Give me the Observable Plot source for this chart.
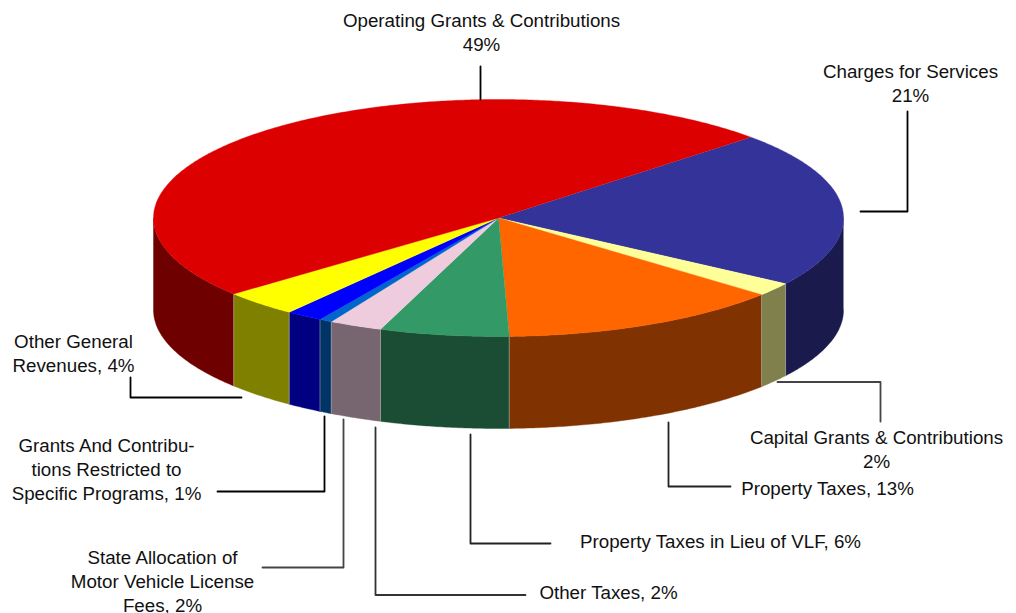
<!DOCTYPE html>
<html>
<head>
<meta charset="utf-8">
<script src="https://cdn.jsdelivr.net/npm/d3@7"></script>
<script src="https://cdn.jsdelivr.net/npm/@observablehq/plot@0.6"></script>
<style>
html,body{margin:0;padding:0;background:#fff}
svg{display:block}
</style>
</head>
<body>
<div id="chart"></div>
<script>
// Data, clockwise from the red/blue boundary at the back right of the pie
const sliceNames = ["Charges for Services","Capital Grants & Contributions","Property Taxes","Property Taxes in Lieu of VLF","Other Taxes","Grants And Contributions Restricted to Specific Programs","State Allocation of Motor Vehicle License Fees","Other General Revenues","Operating Grants & Contributions"];
const sliceValues = [21.3,1.84,13.31,6.05,2.5,0.6,1.72,3.55,49.13];
const topColors = ["#333399","#ffff99","#ff6600","#339966","#eeccdd","#0066cc","#0000ff","#ffff00","#dd0000"];
const sideColors = ["#1a1a4d","#80804d","#803300","#1a4d33","#77666f","#003366","#000080","#808000","#6f0000"];
const labelTexts = ["Operating Grants & Contributions\n49%","Charges for Services\n21%","Capital Grants & Contributions\n2%","Property Taxes, 13%","Property Taxes in Lieu of VLF, 6%","Other Taxes, 2%","State Allocation of\nMotor Vehicle License\nFees, 2%","Grants And Contribu-\ntions Restricted to\nSpecific Programs, 1%","Other General\nRevenues, 4%"];

// Layout
const W = 1016, H = 613;
const cx = 498, cy = 217.5, rx = 345, ry = 118.5, depth = 92, startAngle = 43;
const labelAnchors = [[481,30.5],[910,82],[876,448],[827,487],[720,540],[608,591],[162,580],[106,468],[73,352]];
const leaders = [
  [[480,66],[480,99]],
  [[907,111],[907,211],[860,211]],
  [[777,381.5],[880,381.5],[880,421]],
  [[668,422],[668,486],[730,486]],
  [[470,434],[470,543],[550,543]],
  [[375,427],[375,594.5],[525,594.5]],
  [[343,419],[343,567],[262,567]],
  [[324,416],[324,491],[217,491]],
  [[130,377],[130,397],[241,397]]
];
const leaderColors = ["#000","#000","#444","#222","#222","#333","#444","#000","#000"];

const px = t => cx + rx * Math.cos(t * Math.PI / 180);
const py = (t, d = 0) => cy - ry * Math.sin(t * Math.PI / 180) + d;

const total = d3.sum(sliceValues);
let cum = 0;
const slices = sliceValues.map((v, i) => {
  const t0 = startAngle - cum / total * 360;
  cum += v;
  const t1 = startAngle - cum / total * 360;
  return {name: sliceNames[i], value: v, top: topColors[i], side: sideColors[i], t0, t1};
});

function arc(a, b) { // a > b, descending in degrees
  const n = Math.max(2, Math.ceil((a - b) / 0.5));
  return d3.range(n + 1).map(k => a + (b - a) * k / n);
}

const topPts = slices.flatMap(s => [
  {key: s.name, color: s.top, x: cx, y: cy},
  ...arc(s.t0, s.t1).map(t => ({key: s.name, color: s.top, x: px(t), y: py(t)}))
]);

const sidePts = slices.flatMap(s => {
  const a = Math.min(s.t0, 0), b = Math.max(s.t1, -180);
  if (a <= b) return [];
  const ts = arc(a, b);
  return [
    ...ts.map(t => ({key: s.name, color: s.side, x: px(t), y: py(t)})),
    ...ts.slice().reverse().map(t => ({key: s.name, color: s.side, x: px(t), y: py(t, depth)}))
  ];
});

const seams = slices.filter(s => s.t1 < 0 && s.t1 > -180)
  .map(s => ({x: px(s.t1), y1: py(s.t1), y2: py(s.t1, depth)}));

const leaderPts = leaders.flatMap((l, i) => l.map(([x, y]) => ({key: i, color: leaderColors[i], x, y})));
const labels = labelTexts.map((text, i) => ({text, x: labelAnchors[i][0], y: labelAnchors[i][1]}));

const chart = Plot.plot({
  width: W, height: H,
  marginTop: 0, marginRight: 0, marginBottom: 0, marginLeft: 0,
  x: {domain: [0, W], range: [0, W], axis: null},
  y: {domain: [0, H], range: [0, H], axis: null},
  color: {type: "identity"},
  style: {background: "#fff"},
  marks: [
    Plot.line(sidePts, {x: "x", y: "y", z: "key", fill: "color", stroke: "color", strokeWidth: 0.4, curve: "linear"}),
    Plot.link(seams, {x1: "x", x2: "x", y1: "y1", y2: "y2", stroke: "#b0b0b0", strokeOpacity: 0.7, strokeWidth: 0.8}),
    Plot.line(topPts, {x: "x", y: "y", z: "key", fill: "color", stroke: "color", strokeWidth: 0.4, curve: "linear"}),
    Plot.line(leaderPts, {x: "x", y: "y", z: "key", stroke: "color", strokeWidth: 1.8, curve: "linear"}),
    Plot.text(labels, {x: "x", y: "y", text: "text", fill: "#111", fontSize: 18.75, lineHeight: 1.28, fontFamily: "Liberation Sans, Arial, sans-serif", textAnchor: "middle", lineAnchor: "middle"})
  ]
});
document.getElementById("chart").append(chart);
</script>
</body>
</html>
